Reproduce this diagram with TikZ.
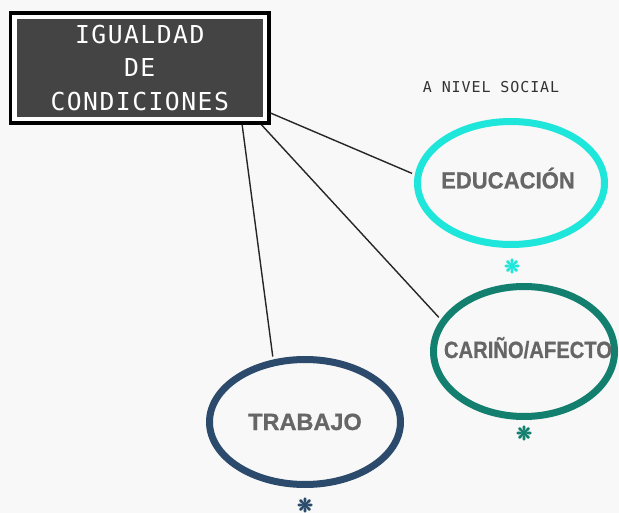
\documentclass[tikz,border=0pt]{standalone}
\usepackage{fontspec}
\usetikzlibrary{shapes.geometric}
\newfontfamily\monofnt[LetterSpace=6]{DejaVu Sans Mono}
\newfontfamily\etiqfnt[FakeBold=0.8]{Liberation Sans}
\newfontfamily\symfnt[FakeBold=3]{DejaVu Sans}
\definecolor{fondo}{HTML}{F8F8F8}
\definecolor{titfill}{HTML}{444444}
\definecolor{cian}{HTML}{1EE6DA}
\definecolor{verde}{HTML}{13806F}
\definecolor{azul}{HTML}{2B4A6C}
\definecolor{gristxt}{HTML}{666666}
\begin{document}
\begin{tikzpicture}[x=1pt,y=-1pt,
	titulo/.style={fill=titfill,draw=white,line width=4.5pt,preaction={draw=black,line width=11.5pt},
		minimum width=250.5pt,minimum height=102pt,inner sep=0pt,outer sep=5.75pt,align=center,
		text=white,font=\monofnt\fontsize{24.7}{33.5}\selectfont},
	elipse/.style={draw=#1,ellipse,line width=7pt,inner sep=0pt},
	etiq/.style={text=gristxt,anchor=base,font=\etiqfnt\bfseries\fontsize{23.5}{24}\selectfont},
	ast/.style={text=#1,inner sep=0pt,font=\symfnt\fontsize{19}{19}\selectfont},
	conector/.style={line width=1.4pt,draw=black!85,shorten >=3pt}]
	\useasboundingbox[fill=fondo] (0,0) rectangle (619,513);
	% cuadro principal
	\node[titulo] (tit) at (139.75,68) {IGUALDAD\\DE\\CONDICIONES};
	\node[text=black!80,font=\monofnt\fontsize{15}{15}\selectfont] (nivel) at (491,87.5) {A NIVEL SOCIAL};
	% elipses
	\node[elipse=cian,minimum width=187pt,minimum height=123pt] (edu) at (511,183) {};
	\node[elipse=verde,minimum width=181pt,minimum height=130pt] (car) at (524,351.5) {};
	\node[elipse=azul,minimum width=191pt,minimum height=125pt] (tra) at (305,422) {};
	\node[etiq] (edutxt) at (508,188.5) {\scalebox{0.94}[1]{EDUCACIÓN}};
	\node[etiq] (cartxt) at (528,358) {\scalebox{0.86}[1]{CARIÑO/AFECTO}};
	\node[etiq] (tratxt) at (305,430) {TRABAJO};
	\node[ast=cian] (ast1) at (512,266) {❋};
	\node[ast=verde] (ast2) at (524,433) {❋};
	\node[ast=azul] (ast3) at (305,505) {❋};
	% conectores
	\draw[conector] (tit.-19) -- (edu.175);
	\draw[conector] (tit.-25.6) -- (car.159);
	\draw[conector] (tit.-29.3) -- (tra.117);
\end{tikzpicture}
\end{document}
